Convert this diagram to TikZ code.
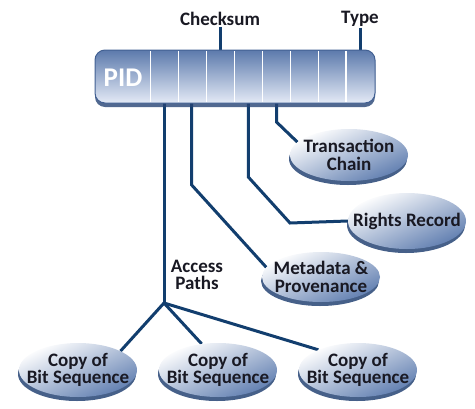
\documentclass[tikz,border=0pt]{standalone}
\usepackage{fontspec}
\setmainfont{Carlito}
\usetikzlibrary{shapes.geometric,shadows,backgrounds}

\definecolor{linkblue}{RGB}{18,62,110}
\definecolor{barblue}{RGB}{92,122,172}
\definecolor{barpale}{RGB}{228,234,246}
\definecolor{barrim}{RGB}{66,96,146}
\definecolor{ellblue}{RGB}{96,126,176}
\definecolor{shadeblue}{RGB}{38,68,116}
\definecolor{txt}{RGB}{25,25,35}

\begin{document}
\begin{tikzpicture}[x=1pt,y=-1pt,
	link/.style={line width=3pt, linkblue},
	oval/.style={ellipse, minimum width=118pt, minimum height=54pt, inner sep=0pt,
		top color=white, bottom color=ellblue, shading angle=25,
		drop shadow={shadow xshift=-1pt, shadow yshift=-4pt, fill=shadeblue, opacity=.85}},
	lbl/.style={font=\fontsize{19}{17.5}\selectfont\bfseries, text=txt, align=center, inner sep=1pt}
]
	\useasboundingbox (0,0) rectangle (475,408);

	% the PID record
	\node (bar) [rectangle, rounded corners=10pt, minimum width=280pt, minimum height=53pt,
		top color=barblue, bottom color=barpale, draw=barrim, line width=1pt,
		drop shadow={shadow xshift=0pt, shadow yshift=-4pt, fill=shadeblue, opacity=.8}] at (235,76.5) {};
	\foreach \i in {0,...,7}
		\draw [white, line width=1.2pt] (150.7+27.9*\i,51) -- (150.7+27.9*\i,102);
	\node (pid) [text=white, font=\fontsize{27}{27}\selectfont\bfseries] at (123,78) {PID};

	% labels above the record
	\node (ck) [lbl] at (220,19) {Checksum};
	\node (ty) [lbl] at (360,19) {Type};

	% things the record points to
	\node (tc) [oval, minimum height=52pt] at (349,155) {};
	\node (tctext) [lbl] at (tc) {Transaction\\Chain};
	\node (rr) [oval, minimum height=56pt] at (407,221) {};
	\node (rrtext) [lbl] at (rr) {Rights Record};
	\node (md) [oval, minimum height=50pt] at (321,277) {};
	\node (mdtext) [lbl] at (md) {Metadata \&\\Provenance};
	\node (ap) [lbl] at (197,275) {Access\\Paths};

	% copies
	\node (cp1) [oval] at (78,370) {};
	\node (cp2) [oval] at (218,370) {};
	\node (cp3) [oval] at (358,370) {};
	\foreach \c in {cp1,cp2,cp3}
		\node (\c text) [lbl] at (\c) {Copy of\\Bit Sequence};

	% taps on the record
	\coordinate (tapA) at (164,100);
	\coordinate (tapM) at (191.7,100);
	\coordinate (tapR) at (248.3,100);
	\coordinate (tapT) at (276.5,100);
	\coordinate (hub) at (164,303);

	\begin{scope}[on background layer]
		\draw [link] (ck.south) -- (ck.south |- bar.north);
		\draw [link] (ty.south) -- (ty.south |- bar.north);
		\draw [link] (tapT) -- (276.5,122) -- (tc.166);
		\draw [link] (tapR) -- (248.3,177) -- (290,223) -- (rr.west);
		\draw [link] (tapM) -- (191.7,185) -- (md.170);
		\draw [link] (tapA) -- (hub);
		\draw [link] (hub) -- (cp1.24);
		\draw [link] (hub) -- (cp2.122);
		\draw [link] (hub) -- (cp3.153);
	\end{scope}

\end{tikzpicture}
\end{document}
